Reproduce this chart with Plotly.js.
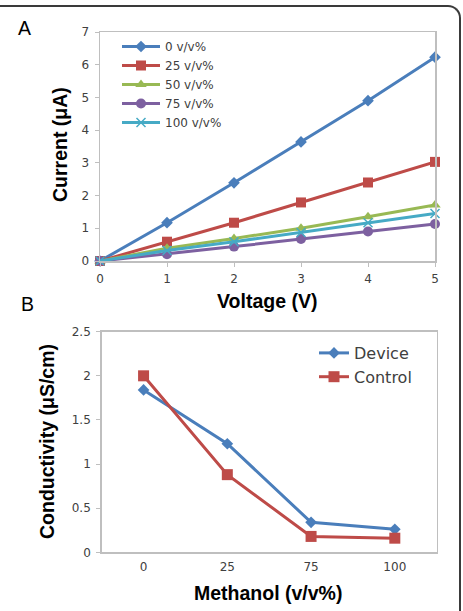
<!DOCTYPE html>
<html>
<head>
<meta charset="utf-8">
<script src="https://cdn.plot.ly/plotly-3.0.1.min.js"></script>
<style>
  html, body { margin: 0; padding: 0; background: #fff; overflow: hidden; }
  #wrap { position: relative; width: 463px; height: 611px; overflow: hidden; }
  #chart { width: 463px; height: 611px; }
  #frame {
    position: absolute; left: -10px; top: 5px; width: 469px; height: 640px;
    border-top: 2px solid #3a3a3a; border-right: 2px solid #3a3a3a;
    border-top-right-radius: 13px; pointer-events: none;
  }
</style>
</head>
<body>
<div id="wrap">
  <div id="chart"></div>
  <div id="frame"></div>
</div>
<script>
// Panel A: current vs. voltage for each methanol fraction
const voltage = [0, 1, 2, 3, 4, 5];
const current0 = [0, 1.17, 2.39, 3.64, 4.90, 6.23];
const current25 = [0, 0.59, 1.17, 1.79, 2.40, 3.03];
const current50 = [0, 0.39, 0.69, 1.00, 1.35, 1.71];
const current75 = [0, 0.21, 0.44, 0.67, 0.90, 1.13];
const current100 = [0, 0.32, 0.59, 0.87, 1.17, 1.45];
const seriesNamesA = ['0 v/v%', '25 v/v%', '50 v/v%', '75 v/v%', '100 v/v%'];

// Panel B: conductivity vs. methanol fraction
const methanol = ['0', '25', '75', '100'];
const device = [1.84, 1.23, 0.34, 0.26];
const control = [2.00, 0.88, 0.18, 0.16];
const seriesNamesB = ['Device', 'Control'];

const W = 463, H = 611;
const px = v => v / W;            // pixel x -> paper
const py = v => (H - v) / H;      // pixel y (from top) -> paper

const tickFont = { family: 'DejaVu Sans, sans-serif', size: 12, color: '#404040' };
const titleFont = { family: 'Liberation Sans, Arial, sans-serif', size: 19.5, color: '#000' };
const frameColor = '#bfbfbf';

const styleA = [
  { color: '#4a7ebb', symbol: 'diamond', size: 9 },
  { color: '#be4b48', symbol: 'square', size: 10 },
  { color: '#98b954', symbol: 'triangle-up', size: 10 },
  { color: '#7d60a0', symbol: 'circle', size: 10 },
  { color: '#46aac5', symbol: 'x-thin-open', size: 9 }
];
const seriesA = [current0, current25, current50, current75, current100];

const traces = seriesA.map((ys, i) => ({
  x: voltage, y: ys, name: seriesNamesA[i],
  xaxis: 'x', yaxis: 'y', legend: 'legend',
  type: 'scatter', mode: 'lines+markers', cliponaxis: false,
  line: { color: styleA[i].color, width: 3 },
  marker: { color: styleA[i].color, symbol: styleA[i].symbol, size: styleA[i].size,
            line: { color: styleA[i].color, width: styleA[i].symbol === 'x-thin-open' ? 1.5 : 0 } }
}));

const styleB = [
  { color: '#4a7ebb', symbol: 'diamond', size: 9 },
  { color: '#be4b48', symbol: 'square', size: 11 }
];
[device, control].forEach((ys, i) => {
  traces.push({
    x: methanol, y: ys, name: seriesNamesB[i],
    xaxis: 'x2', yaxis: 'y2', legend: 'legend2',
    type: 'scatter', mode: 'lines+markers', cliponaxis: false,
    line: { color: styleB[i].color, width: 3 },
    marker: { color: styleB[i].color, symbol: styleB[i].symbol, size: styleB[i].size }
  });
});

const axisBase = {
  showgrid: false, zeroline: false, showline: true, mirror: true,
  linecolor: frameColor, linewidth: 1.5,
  ticks: 'outside', ticklen: 4, tickwidth: 1, tickcolor: frameColor,
  tickfont: tickFont, fixedrange: true
};

// centred text label placed at a pixel position
const label = (text, x, y, font, angle) => ({
  text: text, x: px(x), y: py(y), xref: 'paper', yref: 'paper',
  xanchor: 'center', yanchor: 'middle', showarrow: false,
  textangle: angle || 0, font: font
});
const letterFont = { family: 'Liberation Sans, Arial, sans-serif', size: 19.5, color: '#000' };

const layout = {
  width: W, height: H,
  margin: { l: 0, r: 0, t: 0, b: 0 },
  paper_bgcolor: '#fff', plot_bgcolor: '#fff',
  showlegend: true,
  xaxis: Object.assign({}, axisBase, {
    domain: [px(100), px(435)], anchor: 'y', range: [0, 5], dtick: 1, ticklabelstandoff: 2
  }),
  yaxis: Object.assign({}, axisBase, {
    domain: [py(261), py(32)], anchor: 'x', range: [0, 7], dtick: 1, ticklabelstandoff: 3
  }),
  xaxis2: Object.assign({}, axisBase, {
    domain: [px(101.7), px(436.7)], anchor: 'y2', type: 'category',
    range: [-0.5, 3.5], ticks: '', ticklabelstandoff: 3
  }),
  yaxis2: Object.assign({}, axisBase, {
    domain: [py(552.3), py(331.7)], anchor: 'x2', range: [0, 2.5], dtick: 0.5, ticklabelstandoff: 3
  }),
  legend: {
    x: px(117), y: py(32), xanchor: 'left', yanchor: 'top',
    bgcolor: 'rgba(0,0,0,0)', borderwidth: 0, itemwidth: 38,
    font: { family: 'DejaVu Sans, sans-serif', size: 12, color: '#404040' }
  },
  legend2: {
    x: px(314), y: py(336), xanchor: 'left', yanchor: 'top',
    bgcolor: 'rgba(0,0,0,0)', borderwidth: 0, itemwidth: 30,
    font: { family: 'DejaVu Sans, sans-serif', size: 16, color: '#404040' }
  },
  annotations: [
    label('A', 24.5, 28, letterFont),
    label('B', 27.5, 304, letterFont),
    label('<b>Current (μA)</b>', 60, 145, titleFont, -90),
    label('<b>Voltage (V)</b>', 267, 301, titleFont),
    label('<b>Conductivity (μS/cm)</b>', 47, 442, titleFont, -90),
    label('<b>Methanol (v/v%)</b>', 267.5, 593, titleFont)
  ]
};

Plotly.newPlot('chart', traces, layout, { displayModeBar: false, staticPlot: true });
</script>
</body>
</html>
